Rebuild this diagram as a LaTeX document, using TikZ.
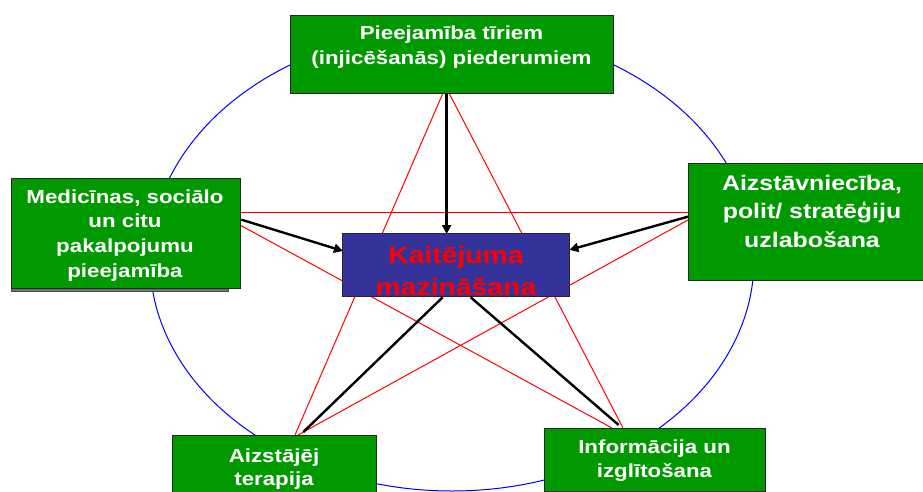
\documentclass[tikz,border=0pt]{standalone}
\usepackage{fontspec}
\newfontfamily\labfont{Liberation Sans}[FakeStretch=1.18]
\usetikzlibrary{arrows.meta}
\pgfdeclarelayer{background}
\pgfsetlayers{background,main}
\definecolor{boxgreen}{RGB}{0,153,0}
\definecolor{boxblue}{RGB}{51,51,153}
\definecolor{ringblue}{RGB}{0,0,255}
\definecolor{starred}{RGB}{255,0,0}
\tikzset{
  gbox/.style={draw=black!85, line width=1.3pt, fill=boxgreen, anchor=north west, inner sep=0pt},
  cbox/.style={draw=black!85, line width=1.3pt, fill=boxblue, anchor=north west, inner sep=0pt},
  shadowbox/.style={draw=black!70, line width=1pt, fill=black!55, anchor=north west, inner sep=0pt},
  lbl/.style={text=white, anchor=base, inner sep=0pt},
  ring/.style={draw=ringblue, line width=1pt},
  starline/.style={draw=starred, line width=1pt},
  flow/.style={draw=black, line width=2.4pt},
  flowarrow/.style={flow, -{Triangle[length=9pt,width=9pt]}, shorten >=-1pt}
}
\newcommand{\lines}[1]{\begin{tabular}[t]{@{}c@{}}#1\end{tabular}}
\begin{document}
\begin{tikzpicture}[x=1pt,y=-1pt]
\useasboundingbox (0,0) rectangle (923,492);
\clip (0,0) rectangle (923,492);

% boxes
\node[gbox, minimum width=323pt, minimum height=78pt] (top) at (290,15) {};
\node[shadowbox, minimum width=217pt, minimum height=110pt] (leftshadow) at (11,180.5) {};
\node[gbox, minimum width=229pt, minimum height=110pt] (left) at (11,178) {};
\node[gbox, minimum width=250pt, minimum height=117pt] (right) at (688,163) {};
\node[cbox, minimum width=227pt, minimum height=63pt] (center) at (342,233) {};
\node[gbox, minimum width=204pt, minimum height=72pt] (bl) at (172,435) {};
\node[gbox, minimum width=221pt, minimum height=63pt] (br) at (544,428) {};

% texts
\node[lbl, font={\labfont\bfseries\fontsize{18.9}{25}\selectfont}] (toptext) at (451.5,40)
  {\lines{Pieejamība tīriem\\(injicēšanās) piederumiem}};
\node[lbl, font={\labfont\bfseries\fontsize{18.9}{24.7}\selectfont}] (lefttext) at (125,203)
  {\lines{Medicīnas, sociālo\\un citu\\pakalpojumu\\pieejamība}};
\node[lbl, font={\labfont\bfseries\fontsize{21.1}{28.5}\selectfont}] (righttext) at (812,190)
  {\lines{Aizstāvniecība,\\polit/ stratēģiju\\uzlabošana}};
\node[lbl, text=starred, font={\labfont\bfseries\fontsize{24}{32.5}\selectfont}] (centertext) at (456,263)
  {\lines{Kaitējuma\\mazināšana}};
\node[lbl, font={\labfont\bfseries\fontsize{18.9}{23}\selectfont}] (bltext) at (274,462)
  {\lines{Aizstājēj\\terapija}};
\node[lbl, font={\labfont\bfseries\fontsize{18.9}{24}\selectfont}] (brtext) at (654.5,453)
  {\lines{Informācija un\\izglītošana}};

% star vertices on the box borders
\coordinate (T1) at (443,93);
\coordinate (T2) at (449,93);
\coordinate (L1) at (240,212);
\coordinate (L2) at (240,225);
\coordinate (R1) at (688,212);
\coordinate (R2) at (688,220);
\coordinate (B1) at (295,435);
\coordinate (B2) at (298,435);
\coordinate (C1) at (612,428);
\coordinate (C2) at (623,428);

\begin{pgfonlayer}{background}
  \draw[ring] (452,260) ellipse [x radius=302, y radius=231];
  \draw[starline] (L1) -- (R1);
  \draw[starline] (L2) -- (C1);
  \draw[starline] (R2) -- (B2);
  \draw[starline] (T1) -- (B1);
  \draw[starline] (T2) -- (C2);
\end{pgfonlayer}

% black connectors
\draw[flowarrow] ([xshift=-5.5pt]top.south) -- ([xshift=-9.5pt]center.north);
\draw[flowarrow] ([yshift=14pt]left.east) -- ([yshift=14.5pt]center.west);
\draw[flowarrow] ([yshift=5.5pt]right.west) -- ([yshift=15.5pt]center.east);
\draw[flow] ([xshift=-13.5pt]center.south) -- ([xshift=-74pt,yshift=3pt]bl.north east);
\draw[flow] ([xshift=14.5pt]center.south) -- ([xshift=-36.5pt,yshift=3pt]br.north);
\end{tikzpicture}
\end{document}
